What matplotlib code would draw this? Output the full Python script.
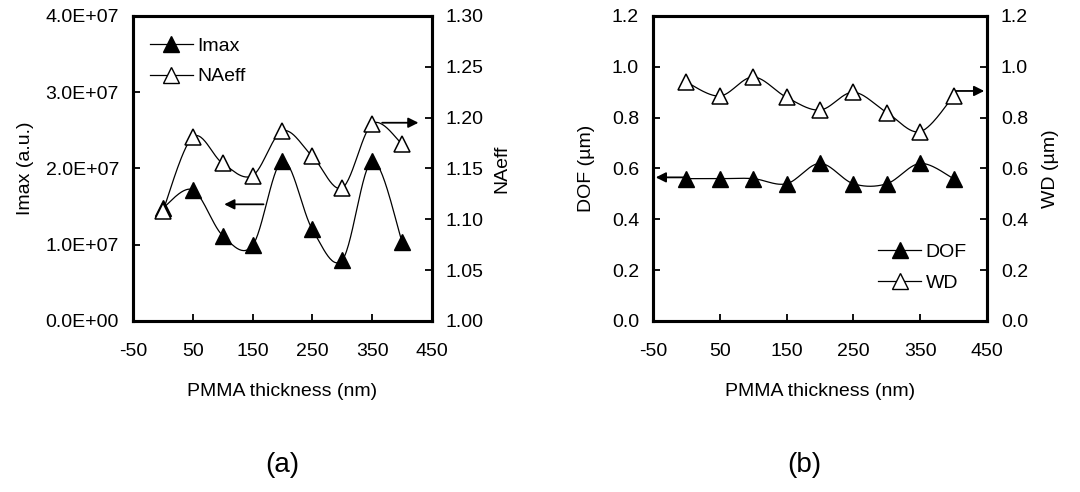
import numpy as np
import matplotlib
matplotlib.use("Agg")
import matplotlib.pyplot as plt
from matplotlib.ticker import FuncFormatter

plt.rcParams['font.family'] = ['Liberation Sans', 'DejaVu Sans']
plt.rcParams['axes.unicode_minus'] = False

thickness = [0, 50, 100, 150, 200, 250, 300, 350, 400]
imax = [1.48e7, 1.72e7, 1.12e7, 0.99e7, 2.10e7, 1.20e7, 0.80e7, 2.10e7, 1.04e7]
naeff = [1.108, 1.181, 1.155, 1.143, 1.187, 1.162, 1.131, 1.194, 1.174]
dof = [0.56, 0.56, 0.56, 0.54, 0.62, 0.54, 0.54, 0.62, 0.56]
wd = [0.94, 0.885, 0.96, 0.88, 0.83, 0.90, 0.82, 0.745, 0.885]

x_ticks = [-50, 50, 150, 250, 350, 450]
imax_ticks = [0, 1e7, 2e7, 3e7, 4e7]
naeff_ticks = [1.00, 1.05, 1.10, 1.15, 1.20, 1.25, 1.30]
um_ticks = [0.0, 0.2, 0.4, 0.6, 0.8, 1.0, 1.2]

FS = 14


def smooth(xs, ys, n=30):
    """Cubic Bezier smoothing through the points (Catmull-Rom control points)."""
    p = np.column_stack([xs, ys]).astype(float)
    ext = np.vstack([p[0], p, p[-1]])
    out = []
    t = np.linspace(0, 1, n)[:, None]
    for i in range(len(p) - 1):
        p0, p1, p2, p3 = ext[i], ext[i + 1], ext[i + 2], ext[i + 3]
        c1 = p1 + (p2 - p0) / 6.0
        c2 = p2 - (p3 - p1) / 6.0
        seg = ((1 - t) ** 3) * p1 + 3 * ((1 - t) ** 2) * t * c1 + 3 * (1 - t) * t ** 2 * c2 + t ** 3 * p2
        out.append(seg if i == 0 else seg[1:])
    s = np.vstack(out)
    return s[:, 0], s[:, 1]


def style_axes(ax):
    for sp in ax.spines.values():
        sp.set_linewidth(2.2)
    ax.tick_params(direction='in', length=5, width=1.3, labelsize=FS)
    ax.tick_params(axis='x', pad=16)
    ax.tick_params(axis='y', pad=10)


arrow = dict(arrowstyle='-|>', color='black', lw=1.3, mutation_scale=15)
LW = 0.9
MS = 11

fig = plt.figure(figsize=(10.8, 4.92), dpi=100)

# ---- panel (a) ----
axa = fig.add_axes([0.1231, 0.3476, 0.2769, 0.6199])
axa2 = axa.twinx()
sx, sy = smooth(thickness, imax)
axa.plot(sx, sy, color='black', lw=LW)
axa.plot(thickness, imax, ls='none', marker='^', ms=MS, mfc='black', mec='black')
sx, sy = smooth(thickness, naeff)
axa2.plot(sx, sy, color='black', lw=LW)
axa2.plot(thickness, naeff, ls='none', marker='^', ms=MS, mfc='white', mec='black', mew=1.1)

axa.set_xlim(-50, 450)
axa.set_ylim(0, 4e7)
axa2.set_ylim(1.0, 1.3)
axa.set_xticks(x_ticks)
axa.set_yticks(imax_ticks)
axa.yaxis.set_major_formatter(FuncFormatter(lambda v, _: "{:.1E}".format(v)))
axa2.set_yticks(naeff_ticks)
axa2.yaxis.set_major_formatter(FuncFormatter(lambda v, _: "%.2f" % v))
style_axes(axa)
style_axes(axa2)
axa.set_xlabel("PMMA thickness (nm)", fontsize=FS)
axa.xaxis.set_label_coords(0.5, -0.203)
axa.set_ylabel("Imax (a.u.)", fontsize=FS)
axa.yaxis.set_label_coords(-0.33, 0.5)
axa2.set_ylabel("NAeff", fontsize=FS)
axa2.yaxis.set_label_coords(1.204, 0.5)

axa.annotate("", xy=(98, 1.53e7), xytext=(173, 1.53e7), arrowprops=arrow)
axa2.annotate("", xy=(432, 1.195), xytext=(362, 1.195), arrowprops=arrow)

h1 = axa.plot([], [], color='black', lw=LW, marker='^', ms=MS, mfc='black', mec='black')[0]
h2 = axa.plot([], [], color='black', lw=LW, marker='^', ms=MS, mfc='white', mec='black')[0]
axa.legend([h1, h2], ["Imax", "NAeff"], loc='center left', frameon=False, fontsize=FS,
           handlelength=2.2, handletextpad=0.25, labelspacing=0.65,
           borderpad=0, borderaxespad=0, bbox_to_anchor=(0.057, 0.851))

# ---- panel (b) ----
axb = fig.add_axes([0.6046, 0.3476, 0.3093, 0.6199])
axb2 = axb.twinx()
sx, sy = smooth(thickness, dof)
axb.plot(sx, sy, color='black', lw=LW)
axb.plot(thickness, dof, ls='none', marker='^', ms=MS, mfc='black', mec='black')
sx, sy = smooth(thickness, wd)
axb2.plot(sx, sy, color='black', lw=LW)
axb2.plot(thickness, wd, ls='none', marker='^', ms=MS, mfc='white', mec='black', mew=1.1)

axb.set_xlim(-50, 450)
axb.set_ylim(0, 1.2)
axb2.set_ylim(0, 1.2)
axb.set_xticks(x_ticks)
axb.set_yticks(um_ticks)
axb2.set_yticks(um_ticks)
fmt1 = FuncFormatter(lambda v, _: "%.1f" % v)
axb.yaxis.set_major_formatter(fmt1)
axb2.yaxis.set_major_formatter(fmt1)
style_axes(axb)
style_axes(axb2)
axb.set_xlabel("PMMA thickness (nm)", fontsize=FS)
axb.xaxis.set_label_coords(0.5, -0.203)
axb.set_ylabel("DOF (\u00b5m)", fontsize=FS)
axb.yaxis.set_label_coords(-0.174, 0.5)
axb2.set_ylabel("WD (\u00b5m)", fontsize=FS)
axb2.yaxis.set_label_coords(1.165, 0.5)

axb.annotate("", xy=(-50, 0.565), xytext=(0, 0.565), arrowprops=arrow)
axb2.annotate("", xy=(450, 0.905), xytext=(400, 0.905), arrowprops=arrow)

h3 = axb.plot([], [], color='black', lw=LW, marker='^', ms=MS, mfc='black', mec='black')[0]
h4 = axb.plot([], [], color='black', lw=LW, marker='^', ms=MS, mfc='white', mec='black')[0]
axb.legend([h3, h4], ["DOF", "WD"], loc='center left', frameon=False, fontsize=FS,
           handlelength=2.2, handletextpad=0.25, labelspacing=0.65,
           borderpad=0, borderaxespad=0, bbox_to_anchor=(0.674, 0.175))

fig.text(282 / 1080, 1 - 465 / 492, "(a)", fontsize=20, ha='center', va='center')
fig.text(804 / 1080, 1 - 465 / 492, "(b)", fontsize=20, ha='center', va='center')

fig.savefig("out.png", dpi=100, facecolor='white')
